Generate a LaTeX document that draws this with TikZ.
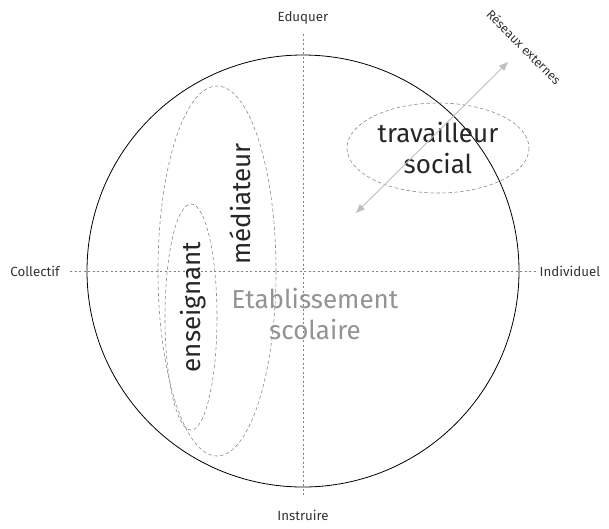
\documentclass[tikz,border=0pt]{standalone}
\usepackage{fontspec}
\setmainfont{Fira Sans}
\usetikzlibrary{arrows.meta}
\begin{document}
\begin{tikzpicture}[x=1pt,y=-1pt,
    axis/.style={gray,dash pattern=on 2pt off 2.5pt,line width=0.5pt},
    zone/.style={gray!90,dash pattern=on 3.5pt off 2.5pt,line width=0.6pt},
    axislabel/.style={font=\fontsize{13.3}{15}\selectfont,text=black!80},
    role/.style={font=\fontsize{26}{31}\selectfont,text=black!85,align=center}]
    \useasboundingbox (0,0) rectangle (609,528);

    % axes
    \coordinate (top) at (303,34);
    \coordinate (bottom) at (303,497);
    \coordinate (left) at (70,271);
    \coordinate (right) at (536,271);
    \draw[axis] (top) -- (bottom);
    \draw[axis] (left) -- (right);
    \node[axislabel] (eduquer) at (303,18) {Eduquer};
    \node[axislabel] (instruire) at (303,515) {Instruire};
    \node[axislabel] (collectif) at (35,271) {Collectif};
    \node[axislabel] (individuel) at (570,271) {Individuel};

    % school
    \draw[line width=0.8pt] (303,271) circle (216);
    \node[role,text=gray!85] (etab) at (315,314) {Etablissement\\scolaire};

    % zones
    \draw[zone] (217,271) ellipse (59 and 185);
    \draw[zone] (191,317) ellipse (26 and 113);
    \draw[zone] (438,148) ellipse (91 and 45);
    \node[role,rotate=90] (mediateur) at (240,204) {médiateur};
    \node[role,rotate=90] (enseignant) at (193,307) {enseignant};
    \node[role] (social) at (438,148) {travailleur\\social};

    % external networks
    \coordinate (netin) at (356,213);
    \coordinate (netout) at (508,62);
    \draw[gray!50,line width=0.9pt,{Triangle[length=9pt,width=7pt]}-{Triangle[length=9pt,width=7pt]}] (netin) -- (netout);
    \node[font=\fontsize{12.5}{14}\selectfont,text=black!80,rotate=-45] (reseaux) at (524,47) {Réseaux externes};
\end{tikzpicture}
\end{document}
